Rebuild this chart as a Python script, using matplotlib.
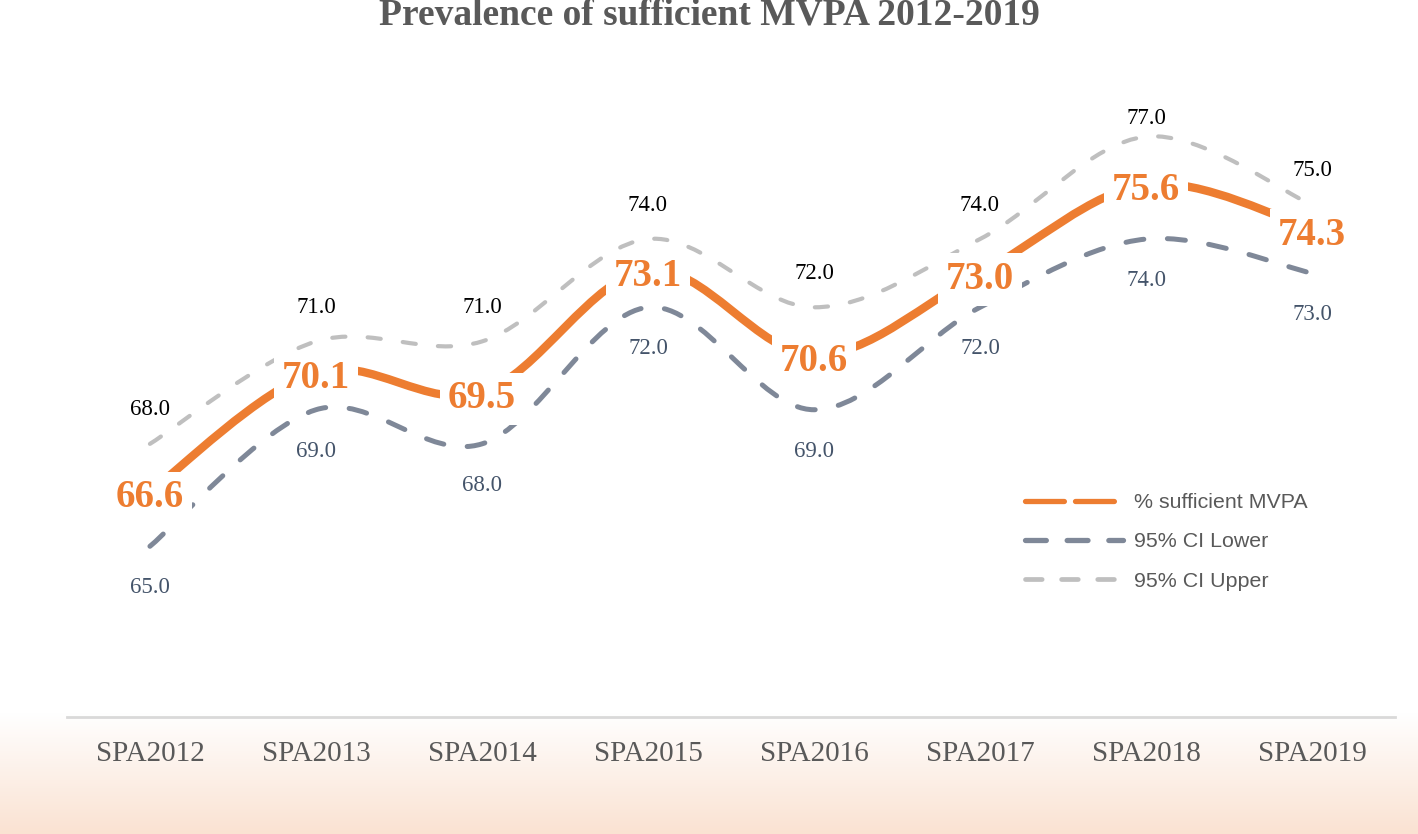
#!/usr/bin/env python3
"""Prevalence of sufficient MVPA 2012-2019 (smoothed Excel-style lines)."""
import matplotlib
matplotlib.use("Agg")
import matplotlib.pyplot as plt
import numpy as np
from matplotlib.path import Path
from matplotlib.patches import PathPatch
from matplotlib.lines import Line2D
from matplotlib.colors import LinearSegmentedColormap

plt.rcParams.update({
    "font.family": "Liberation Serif",
    "lines.scale_dashes": False,
})

# Data
years = ["SPA2012", "SPA2013", "SPA2014", "SPA2015",
         "SPA2016", "SPA2017", "SPA2018", "SPA2019"]
mvpa = [66.6, 70.1, 69.5, 73.1, 70.6, 73.0, 75.6, 74.3]
ci_lower = [65.0, 69.0, 68.0, 72.0, 69.0, 72.0, 74.0, 73.0]
ci_upper = [68.0, 71.0, 71.0, 74.0, 72.0, 74.0, 77.0, 75.0]

ORANGE = "#ED7D31"
SLATE = "#7F8898"
LIGHT = "#BFBFBF"
LOWER_TXT = "#44546A"
GREY_TXT = "#595959"


def smooth_path(ys):
    """Bezier path through the points, like Excel's 'smoothed line'."""
    pts = np.column_stack([np.arange(len(ys)), ys]).astype(float)
    verts = [pts[0]]
    codes = [Path.MOVETO]
    n = len(pts)
    for i in range(n - 1):
        p_prev = pts[max(i - 1, 0)]
        p_next2 = pts[min(i + 2, n - 1)]
        c1 = pts[i] + (pts[i + 1] - p_prev) / 6
        c2 = pts[i + 1] - (p_next2 - pts[i]) / 6
        verts += [c1, c2, pts[i + 1]]
        codes += [Path.CURVE4] * 3
    return Path(verts, codes)


fig = plt.figure(figsize=(14.18, 8.34), dpi=100)

# peach gradient at the bottom
bg = fig.add_axes([0, 0, 1, 0.145], zorder=-10)
cmap = LinearSegmentedColormap.from_list("peach", ["#FFFFFF", "#FAE2D2"])
grad = np.linspace(0, 1, 256).reshape(-1, 1)
bg.imshow(grad, aspect="auto", cmap=cmap, extent=[0, 1, 0, 1], origin="upper")
bg.axis("off")

ax = fig.add_axes([0.0472, 0.1403, 0.9366, 0.8187])
ax.patch.set_alpha(0)
ax.set_xlim(-0.5, len(years) - 0.5)
ax.set_ylim(60, 80)

up = PathPatch(smooth_path(ci_upper), fill=False, edgecolor=LIGHT, lw=3.0,
               linestyle=(0, (9.5, 16)), capstyle="round", zorder=2)
lo = PathPatch(smooth_path(ci_lower), fill=False, edgecolor=SLATE, lw=3.6,
               linestyle=(0, (13, 17)), capstyle="round", zorder=2)
mid = PathPatch(smooth_path(mvpa), fill=False, edgecolor=ORANGE, lw=6.0,
                capstyle="butt", zorder=3)
for p in (up, lo, mid):
    ax.add_patch(p)

# data labels
for i, v in enumerate(mvpa):
    ax.annotate(f"{v:.1f}", (i, v), xytext=(0, -4.5), textcoords="offset points",
                ha="center", va="center", fontsize=28,
                fontweight="bold", color=ORANGE, zorder=6,
                bbox=dict(boxstyle="square,pad=0.2", fc="white", ec="none"))
for i, v in enumerate(ci_upper):
    dy = 13 if v == max(ci_upper) else 24.5   # the top label sits closer to its line
    ax.annotate(f"{v:.1f}", (i, v), xytext=(0, dy), textcoords="offset points",
                ha="center", va="center", fontsize=16.5, color="black", zorder=5)
for i, v in enumerate(ci_lower):
    ax.annotate(f"{v:.1f}", (i, v), xytext=(0, -30), textcoords="offset points",
                ha="center", va="center", fontsize=16.5, color=LOWER_TXT, zorder=5)

ax.set_xticks(range(len(years)))
ax.set_xticklabels(years, fontsize=21, color=GREY_TXT)
ax.tick_params(axis="x", length=0, pad=17.5)
ax.set_yticks([])
for s in ("top", "right", "left"):
    ax.spines[s].set_visible(False)
ax.spines["bottom"].set_color("#D9D9D9")
ax.spines["bottom"].set_linewidth(2)

fig.text(0.5, 1 - 15 / 834, "Prevalence of sufficient MVPA 2012-2019",
         ha="center", va="center", fontsize=27, fontweight="bold", color=GREY_TXT)

handles = [
    Line2D([], [], color=ORANGE, lw=3.8, linestyle=(0, (28, 8)), dash_capstyle="round"),
    Line2D([], [], color=SLATE, lw=3.8, linestyle=(0, (15, 15)), dash_capstyle="round"),
    Line2D([], [], color=LIGHT, lw=3.4, linestyle=(0, (12, 14)), dash_capstyle="round"),
]
labels = ["% sufficient MVPA", "95% CI Lower", "95% CI Upper"]
leg = ax.legend(handles, labels, loc="upper left", bbox_to_anchor=(1025 / 1418, 1 - 493 / 834),
                bbox_transform=fig.transFigure, frameon=False,
                prop={"family": "Liberation Sans", "size": 15.4},
                handlelength=4.6, handletextpad=0.5, labelspacing=0.95,
                borderpad=0, borderaxespad=0)
for t in leg.get_texts():
    t.set_color(GREY_TXT)

fig.savefig("out.png", dpi=100)
